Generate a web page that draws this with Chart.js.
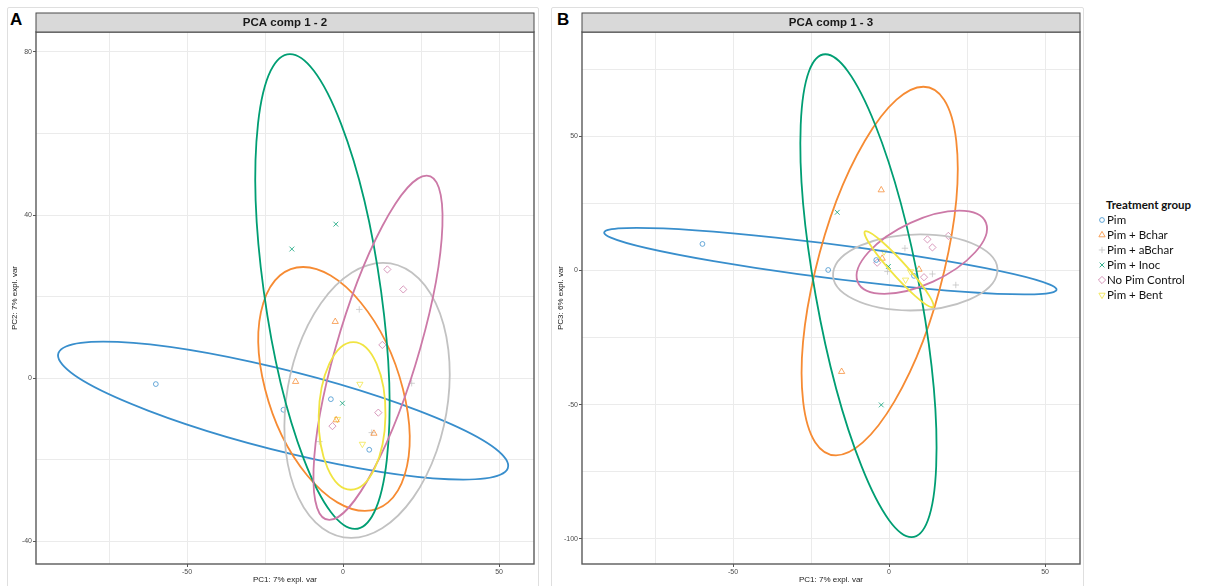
<!DOCTYPE html>
<html>
<head>
<meta charset="utf-8">
<script src="https://cdn.jsdelivr.net/npm/chart.js@4.4.1/dist/chart.umd.min.js"></script>
<style>
  html, body { margin: 0; padding: 0; background: #fff; }
  body { width: 1206px; height: 586px; position: relative; overflow: hidden; }
  .frame { position: absolute; border: 1px solid #dfdfdf; border-radius: 2px; }
  .tag { position: absolute; font: bold 17px "Liberation Sans", Arial, sans-serif; color: #000; }
  .wrap { position: absolute; top: 0; width: 540px; height: 586px; }
  #legend { position: absolute; left: 1097px; top: 197px; font-family: Lato, "Open Sans", sans-serif; color: #111; }
  #legend .lt { font-weight: bold; font-size: 11.5px; line-height: 15px; padding-left: 9px; white-space: nowrap; }
  #legend .it { font-size: 11.5px; line-height: 15px; height: 15px; white-space: nowrap; display: flex; align-items: center; }
  #legend canvas { width: 10px; height: 10px; margin-right: 0px; }
</style>
</head>
<body>
<div class="frame" style="left:7px; top:7px; width:530px; height:600px;"></div>
<div class="frame" style="left:551px; top:7px; width:531px; height:600px;"></div>
<div class="tag" style="left:10px; top:10px;">A</div>
<div class="tag" style="left:557px; top:10px;">B</div>
<div class="wrap" style="left:0px;"><canvas id="chartA"></canvas></div>
<div class="wrap" style="left:546px;"><canvas id="chartB"></canvas></div>
<div id="legend"><div class="lt">Treatment group</div></div>

<script>
const groups = ["Pim", "Pim + Bchar", "Pim + aBchar", "Pim + Inoc", "No Pim Control", "Pim + Bent"];
const colors = ["#388ECC", "#F68B33", "#C2C2C2", "#009E73", "#CC79A7", "#F0E442"];
const shapes = ["circle", "triangle", "cross", "crossRot", "rectRot", "triangle"];
const turns = [0, 0, 0, 0, 0, 180];
const sizes = [2.4, 3.6, 3.2, 3.4, 3.6, 3.6];

// PCA comp 1 - 2 (PC1, PC2)
const pimA = [[-60.0, -1.4], [-19.1, -7.7], [-3.9, -5.1], [8.4, -17.5]];
const bcharA = [[-2.5, 13.9], [-15.2, -0.8], [9.9, -13.5], [-2.2, -10.2]];
const abcharA = [[5.2, 16.9], [22.0, -1.2], [-7.6, -15.5], [9.2, -13.3]];
const inocA = [[-16.4, 31.7], [-2.3, 37.8], [-0.2, -6.1]];
const controlA = [[14.2, 26.7], [19.3, 21.8], [12.6, 8.2], [11.3, -8.4], [-3.4, -11.7]];
const bentA = [[5.4, -1.4], [-1.8, -10.0], [6.2, -16.1]];

// PCA comp 1 - 3 (PC1, PC3)
const pimB = [[-59.8, 9.9], [-19.5, 0.2], [-4.1, 3.9], [8.0, -2.0]];
const bcharB = [[-2.5, 30.0], [-15.2, -37.7], [9.6, 0.4], [-2.2, 4.5]];
const abcharB = [[5.1, 8.3], [21.4, -5.4], [-0.5, -0.4], [13.9, -1.3]];
const inocB = [[-16.6, 21.7], [-2.5, -50.1], [-0.2, 1.5]];
const controlB = [[12.3, 11.6], [13.9, 8.6], [19.0, 12.9], [-3.8, 2.9], [11.2, -2.5]];
const bentB = [[-1.6, 7.0], [5.3, -3.5], [6.9, -0.4]];

// confidence ellipses: centre, offset to top point, half width at centre height (data units)
const ellCxA = [-19.2, -2.9, 7.7, -6.6, 11.2, 2.9];
const ellCyA = [-7.9, -2.6, -5.4, 21.3, 7.5, -9.2];
const ellUxA = [-57.7, -9.9, 5.1, -10.4, 15.6, 0.4];
const ellUyA = [16.9, 29.9, 33.7, 58.2, 42.2, 18.1];
const ellWA = [43.3, 22.1, 26.0, 18.8, 13.6, 10.7];

const ellCxB = [-18.8, -3.0, 8.4, -6.6, 10.5, 3.2];
const ellCyB = [3.5, -0.2, -0.7, -9.4, 6.8, 0.5];
const ellUxB = [-62.1, 14.0, 1.6, -13.8, 12.0, -10.6];
const ellUyB = [12.4, 68.7, 14.2, 90.0, 15.5, 14.2];
const ellWB = [37.4, 20.7, 26.3, 16.9, 17.1, 3.2];

// axis ranges and ticks
const xRange = [-98.4, 61.2];
const yRangeA = [-45.5, 84.9];
const yRangeB = [-109.4, 88.9];
const xLabelTicks = [-50, 0, 50];
const yLabelTicksA = [-40, 0, 40, 80];
const yLabelTicksB = [-100, -50, 0, 50];

function fade(hex, a) {
  const n = parseInt(hex.slice(1), 16);
  return `rgba(${n >> 16}, ${(n >> 8) & 255}, ${n & 255}, ${a})`;
}

const tickFont = { family: "'Liberation Sans', Arial, sans-serif", size: 7 };
const titleFont = { family: "'Liberation Sans', Arial, sans-serif", size: 8 };

function makeSets(pts) {
  return groups.map((g, i) => ({
    label: g,
    data: pts[i].map(p => ({ x: p[0], y: p[1] })),
    pointStyle: shapes[i],
    pointRotation: turns[i],
    pointRadius: sizes[i],
    pointBorderWidth: 1,
    pointBorderColor: fade(colors[i], 0.75),
    pointBackgroundColor: "rgba(0,0,0,0)",
    showLine: false
  }));
}

function axis(range, step, labels, title, isY) {
  return {
    type: "linear",
    min: range[0],
    max: range[1],
    border: { display: false },
    grid: {
      color: "#ebebeb",
      lineWidth: 1,
      tickLength: 3,
      tickColor: ctx => labels.includes(ctx.tick.value) ? "#555" : "rgba(0,0,0,0)"
    },
    ticks: {
      stepSize: step,
      includeBounds: false,
      autoSkip: false,
      maxRotation: 0,
      padding: 1,
      color: "#4d4d4d",
      font: tickFont,
      callback: v => labels.includes(v) ? String(v) : ""
    },
    title: {
      display: true,
      text: title,
      color: "#1a1a1a",
      font: titleFont,
      padding: isY ? { top: 2, bottom: 0 } : { top: 0, bottom: 1 }
    },
    afterFit: s => { if (isY) s.width = 28; else s.height = 22; }
  };
}

function decor(title, ell) {
  return {
    id: "decor",
    afterDatasetsDraw(chart) {
      const { ctx, chartArea: a, scales: { x, y } } = chart;
      ctx.save();
      ctx.beginPath();
      ctx.rect(a.left, a.top, a.right - a.left, a.bottom - a.top);
      ctx.clip();
      for (let i = 0; i < ell.cx.length; i++) {
        const cx = x.getPixelForValue(ell.cx[i]);
        const cy = y.getPixelForValue(ell.cy[i]);
        const ux = x.getPixelForValue(ell.cx[i] + ell.ux[i]) - cx;
        const uy = y.getPixelForValue(ell.cy[i] + ell.uy[i]) - cy;
        const wx = x.getPixelForValue(ell.cx[i] + ell.w[i]) - cx;
        ctx.save();
        ctx.beginPath();
        ctx.transform(ux, uy, wx, 0, cx, cy);
        ctx.arc(0, 0, 1, 0, Math.PI * 2);
        ctx.restore();
        ctx.strokeStyle = colors[i];
        ctx.lineWidth = 1.8;
        ctx.stroke();
      }
      ctx.restore();
    },
    afterDraw(chart) {
      const { ctx, chartArea: a } = chart;
      ctx.save();
      // panel border
      ctx.strokeStyle = "#5a5a5a";
      ctx.lineWidth = 1.4;
      ctx.strokeRect(a.left, a.top, a.right - a.left, a.bottom - a.top);
      // facet strip
      ctx.fillStyle = "#d9d9d9";
      ctx.fillRect(a.left, 13, a.right - a.left, a.top - 13);
      ctx.strokeStyle = "#4a4a4a";
      ctx.lineWidth = 1;
      ctx.strokeRect(a.left, 13, a.right - a.left, a.top - 13);
      ctx.fillStyle = "#1a1a1a";
      ctx.font = "bold 11.5px 'Liberation Sans', Arial, sans-serif";
      ctx.textAlign = "center";
      ctx.textBaseline = "middle";
      ctx.fillText(title, (a.left + a.right) / 2, (13 + a.top) / 2 + 0.5);
      ctx.restore();
    }
  };
}

function makeChart(id, pts, yRange, yStep, yLabels, yTitle, title, ell) {
  return new Chart(document.getElementById(id), {
    type: "scatter",
    data: { datasets: makeSets(pts) },
    options: {
      responsive: true,
      maintainAspectRatio: false,
      animation: false,
      layout: { padding: { left: 8, top: 32, right: 6, bottom: 0 } },
      plugins: { legend: { display: false }, tooltip: { enabled: false } },
      scales: {
        x: axis(xRange, 25, xLabelTicks, "PC1: 7% expl. var", false),
        y: axis(yRange, yStep, yLabels, yTitle, true)
      }
    },
    plugins: [decor(title, ell)]
  });
}

makeChart("chartA", [pimA, bcharA, abcharA, inocA, controlA, bentA],
  yRangeA, 20, yLabelTicksA, "PC2: 7% expl. var", "PCA comp 1 - 2",
  { cx: ellCxA, cy: ellCyA, ux: ellUxA, uy: ellUyA, w: ellWA });

makeChart("chartB", [pimB, bcharB, abcharB, inocB, controlB, bentB],
  yRangeB, 25, yLabelTicksB, "PC3: 6% expl. var", "PCA comp 1 - 3",
  { cx: ellCxB, cy: ellCyB, ux: ellUxB, uy: ellUyB, w: ellWB });

// legend
const legend = document.getElementById("legend");
groups.forEach((g, i) => {
  const row = document.createElement("div");
  row.className = "it";
  const c = document.createElement("canvas");
  c.width = 10; c.height = 10;
  const cx = c.getContext("2d");
  cx.strokeStyle = fade(colors[i], 0.8);
  cx.fillStyle = "rgba(0,0,0,0)";
  cx.lineWidth = 1;
  if (Chart.helpers && Chart.helpers.drawPoint) {
    Chart.helpers.drawPoint(cx, { pointStyle: shapes[i], rotation: turns[i], radius: sizes[i], borderWidth: 1 }, 5, 5);
  } else {
    cx.beginPath(); cx.arc(5, 5, 3, 0, Math.PI * 2); cx.stroke();
  }
  const t = document.createElement("span");
  t.textContent = g;
  row.appendChild(c);
  row.appendChild(t);
  legend.appendChild(row);
});
</script>
</body>
</html>
